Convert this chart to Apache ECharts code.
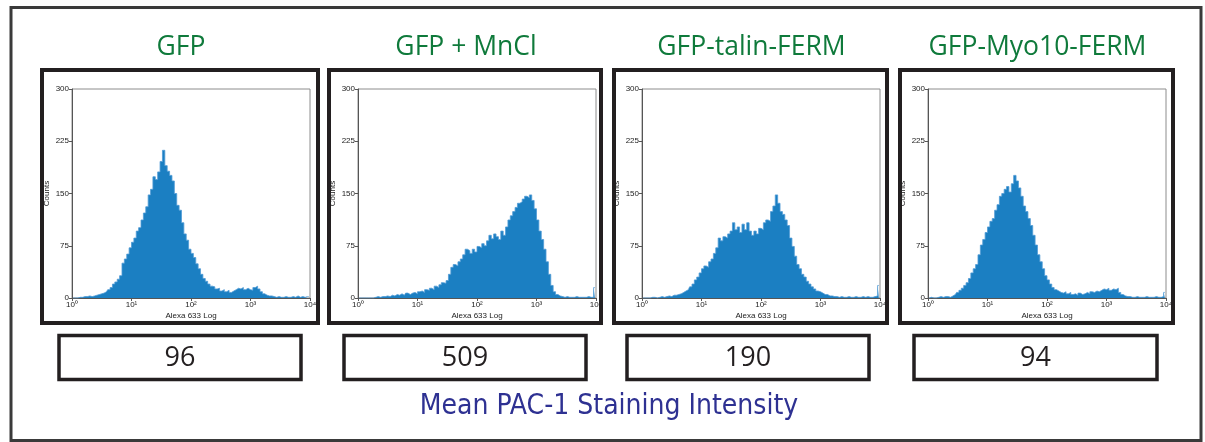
<!DOCTYPE html>
<html>
<head>
<meta charset="utf-8">
<title>PAC-1 staining</title>
<script src="https://cdn.jsdelivr.net/npm/echarts@6/dist/echarts.min.js"></script>
<style>
  html, body { margin: 0; padding: 0; background: #fff; }
  #chart { width: 1205px; height: 442px; }
</style>
</head>
<body>
<div id="chart"></div>
<script>
// 100 channels over 4 decades (10^0 .. 10^4)
var decades = 4;
var panelTitles = ['GFP', 'GFP + MnCl', 'GFP-talin-FERM', 'GFP-Myo10-FERM'];
var meanValues = ['96', '509', '190', '94'];
var xTickLabels = ['10\u2070', '10\u00b9', '10\u00b2', '10\u00b3', '10\u2074'];
var footerText = 'Mean PAC-1 Staining Intensity';

var countsGFP = [
  0, 0, 0, 1, 1, 2, 2, 3, 2, 3, 4, 5, 6, 7, 9, 12, 15, 20, 23, 27, 32, 50, 56, 63, 72,
  80, 86, 96, 101, 112, 122, 131, 148, 156, 174, 170, 181, 196, 212, 190, 182, 176, 168, 150, 133, 126, 108, 92, 83, 70,
  64, 58, 49, 42, 34, 28, 24, 20, 17, 16, 13, 14, 10, 12, 9, 11, 8, 10, 12, 14, 13, 15, 12, 14, 12,
  11, 15, 17, 13, 9, 6, 4, 3, 3, 2, 1, 2, 1, 1, 2, 1, 1, 2, 1, 3, 1, 2, 1, 2, 2
];
var countsMnCl = [
  0, 0, 0, 0, 0, 0, 0, 1, 2, 1, 2, 2, 3, 2, 4, 3, 5, 4, 6, 4, 7, 5, 7, 8, 6,
  9, 10, 8, 12, 11, 14, 12, 17, 15, 19, 22, 21, 25, 34, 44, 48, 46, 52, 56, 62, 70, 68, 64, 70, 66,
  74, 72, 78, 75, 82, 90, 85, 92, 88, 84, 96, 90, 102, 112, 118, 124, 130, 136, 138, 142, 146, 144, 148, 140, 128,
  112, 96, 84, 70, 52, 34, 18, 9, 5, 3, 2, 1, 2, 1, 1, 1, 2, 1, 1, 1, 1, 2, 1, 1, 15
];
var countsTalin = [
  0, 0, 0, 0, 1, 1, 0, 1, 2, 1, 2, 3, 2, 4, 4, 5, 6, 8, 10, 12, 16, 20, 26, 30, 36,
  42, 46, 44, 52, 56, 64, 72, 86, 82, 88, 86, 92, 96, 108, 98, 102, 94, 106, 98, 108, 96, 90, 96, 92, 100,
  98, 108, 112, 110, 124, 132, 148, 136, 124, 120, 112, 104, 86, 74, 60, 48, 42, 34, 30, 24, 20, 16, 13, 10, 9,
  7, 5, 5, 3, 3, 2, 2, 1, 2, 1, 1, 2, 1, 1, 2, 1, 1, 2, 1, 2, 1, 1, 2, 3, 18
];
var countsMyo10 = [
  0, 1, 0, 0, 1, 2, 1, 2, 2, 1, 3, 5, 8, 11, 14, 18, 22, 28, 36, 42, 48, 62, 76, 84, 94,
  102, 110, 114, 126, 134, 146, 150, 156, 160, 152, 164, 176, 168, 158, 146, 132, 124, 114, 104, 90, 76, 62, 52, 42, 32,
  26, 20, 15, 12, 10, 8, 7, 9, 6, 8, 5, 6, 4, 7, 5, 6, 8, 6, 9, 8, 10, 9, 11, 13, 12,
  14, 11, 13, 12, 14, 8, 5, 3, 2, 2, 1, 1, 2, 1, 1, 1, 2, 1, 1, 1, 2, 1, 1, 2, 8
];
var allCounts = [countsGFP, countsMnCl, countsTalin, countsMyo10];

// layout
var plotLeft = [72, 358, 642, 928];
var panelBox = [[42, 318], [329, 601], [614, 887], [900, 1173]];
var valueBox = [[59, 301], [344, 586], [627, 869], [914, 1157]];
var titleGreen = '#0f7a3b';
var footerBlue = '#2e3192';
var boxColor = '#231f20';

var chart = echarts.init(document.getElementById('chart'));

var grids = [], xAxes = [], yAxes = [], series = [], graphics = [];

graphics.push({
  type: 'rect', shape: {x: 11, y: 7.5, width: 1190, height: 433},
  style: {fill: null, stroke: '#3a3a3a', lineWidth: 3}
});

for (var k = 0; k < 4; k++) {
  grids.push({
    left: plotLeft[k], top: 89, width: 238, height: 209,
    show: true, borderColor: '#8c8c8c', borderWidth: 1, backgroundColor: '#fff'
  });
  xAxes.push({
    type: 'log', logBase: 10, min: 1, max: 10000, gridIndex: k,
    axisLine: {lineStyle: {color: '#555', width: 1}},
    axisTick: {show: true, length: 3, lineStyle: {color: '#555'}},
    minorTick: {show: false},
    splitLine: {show: false},
    axisLabel: {
      fontSize: 8, color: '#222', margin: 3, fontFamily: 'Liberation Sans',
      formatter: function (v) {
        return xTickLabels[Math.round(Math.log(v) / Math.LN10)];
      }
    },
    name: 'Alexa 633 Log', nameLocation: 'middle', nameGap: 14,
    nameTextStyle: {fontSize: 8, color: '#222', fontFamily: 'Liberation Sans'}
  });
  yAxes.push({
    type: 'value', min: 0, max: 300, interval: 75, gridIndex: k,
    axisLine: {show: true, lineStyle: {color: '#555', width: 1}},
    axisTick: {show: true, length: 3, lineStyle: {color: '#555'}},
    splitLine: {show: false},
    axisLabel: {fontSize: 8, color: '#222', margin: 3, fontFamily: 'Liberation Sans'},
    name: 'Counts', nameLocation: 'middle', nameRotate: 90, nameGap: 21,
    nameTextStyle: {fontSize: 8, color: '#222', fontFamily: 'Liberation Sans'}
  });
  var counts = allCounts[k];
  var binW = decades / counts.length;
  series.push({
    type: 'line', xAxisIndex: k, yAxisIndex: k,
    step: 'middle', symbol: 'none', silent: true, animation: false,
    lineStyle: {color: '#4f9bd6', width: 0.8},
    areaStyle: {color: '#1b7fc2', opacity: 1},
    data: counts.map(function (c, i) { return [Math.pow(10, (i + 0.5) * binW), c]; })
  });

  var pb = panelBox[k];
  graphics.push({
    type: 'rect', shape: {x: pb[0], y: 70, width: pb[1] - pb[0], height: 253},
    style: {fill: null, stroke: boxColor, lineWidth: 4}
  });
  var vb = valueBox[k];
  graphics.push({
    type: 'rect', shape: {x: vb[0], y: 335.5, width: vb[1] - vb[0], height: 44},
    style: {fill: null, stroke: boxColor, lineWidth: 3.5}
  });
  graphics.push({
    type: 'text', x: (pb[0] + pb[1]) / 2 + 1, y: 47,
    style: {
      text: panelTitles[k], fill: titleGreen, align: 'center', verticalAlign: 'middle',
      font: '26.5px "Open Sans", sans-serif'
    }
  });
  graphics.push({
    type: 'text', x: (vb[0] + vb[1]) / 2, y: 358,
    style: {
      text: meanValues[k], fill: '#231f20', align: 'center', verticalAlign: 'middle',
      font: '27px "Open Sans", sans-serif'
    }
  });
}

graphics.push({
  type: 'text', x: 609, y: 407,
  style: {
    text: footerText, fill: footerBlue, align: 'center', verticalAlign: 'middle',
    font: '28px "DejaVu Sans Condensed", "Liberation Sans Narrow", sans-serif'
  }
});

chart.setOption({
  backgroundColor: '#fff',
  animation: false,
  grid: grids,
  xAxis: xAxes,
  yAxis: yAxes,
  series: series,
  graphic: graphics
});
window.onresize = chart.resize;
</script>
</body>
</html>
